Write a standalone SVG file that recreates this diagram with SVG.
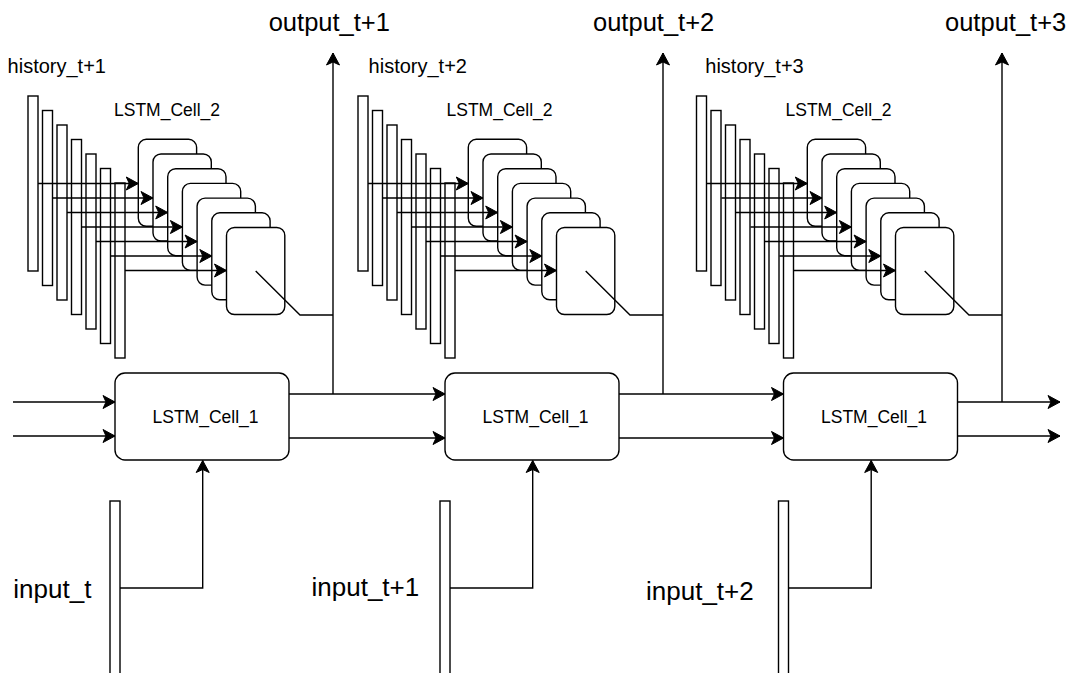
<svg xmlns="http://www.w3.org/2000/svg" width="1073" height="673" viewBox="0 0 1073 673">
<style>
.box{fill:#fff;stroke:#000;stroke-width:1.4}
.ln{fill:none;stroke:#000;stroke-width:1.4}
.arr{marker-end:url(#ah)}
text{font-family:"Liberation Sans",Arial,sans-serif;fill:#000}
.big{font-size:25.5px}
.inp{font-size:26px}
.hist{font-size:20px}
.cell{font-size:17.5px}
</style>
<defs>
<marker id="ah" markerUnits="userSpaceOnUse" markerWidth="16" markerHeight="16" refX="13" refY="8" orient="auto" viewBox="0 0 16 16">
<path d="M1,1.5 L13,8 L1,14.5 L4,8 Z" fill="#000" stroke="#000" stroke-width="1" stroke-linejoin="miter"/>
</marker>
</defs>
<rect width="1073" height="673" fill="#fff"/>

<!-- Column 1 nodes -->
<g id="history1">
<rect class="box" x="28" y="96" width="10" height="175"/>
<rect class="box" x="42.5" y="110.5" width="10" height="175"/>
<rect class="box" x="57" y="125" width="10" height="175"/>
<rect class="box" x="71.5" y="139.5" width="10" height="175"/>
<rect class="box" x="86" y="154" width="10" height="175"/>
<rect class="box" x="100.5" y="168.5" width="10" height="175"/>
<rect class="box" x="115" y="183" width="10" height="175"/>
<text class="hist" x="7.6" y="73">history_t+1</text>
</g>
<g id="lstm2_1">
<rect class="box" x="138.3" y="139.3" width="58.3" height="87" rx="8"/>
<rect class="box" x="153" y="154" width="58.3" height="87" rx="8"/>
<rect class="box" x="167.7" y="168.7" width="58.3" height="87" rx="8"/>
<rect class="box" x="182.4" y="183.4" width="58.3" height="87" rx="8"/>
<rect class="box" x="197.1" y="198.1" width="58.3" height="87" rx="8"/>
<rect class="box" x="211.8" y="212.8" width="58.3" height="87" rx="8"/>
<rect class="box" x="226.5" y="227.5" width="58.3" height="87" rx="8"/>
<text class="cell" x="114" y="116">LSTM_Cell_2</text>
</g>
<g id="lstm1_1">
<rect class="box" x="115" y="373" width="174" height="87" rx="10"/>
<text class="cell" x="205.5" y="423" text-anchor="middle">LSTM_Cell_1</text>
</g>
<g id="input1">
<rect class="box" x="110" y="501" width="10" height="175"/>
<text class="inp" x="13.3" y="598">input_t</text>
</g>
<g id="output1"><text class="big" x="268.7" y="31">output_t+1</text></g>

<!-- Column 2 nodes -->
<g id="history2" transform="translate(330,0)">
<rect class="box" x="28" y="96" width="10" height="175"/>
<rect class="box" x="42.5" y="110.5" width="10" height="175"/>
<rect class="box" x="57" y="125" width="10" height="175"/>
<rect class="box" x="71.5" y="139.5" width="10" height="175"/>
<rect class="box" x="86" y="154" width="10" height="175"/>
<rect class="box" x="100.5" y="168.5" width="10" height="175"/>
<rect class="box" x="115" y="183" width="10" height="175"/>
<text class="hist" x="38.6" y="73">history_t+2</text>
</g>
<g id="lstm2_2" transform="translate(330,0)">
<rect class="box" x="138.3" y="139.3" width="58.3" height="87" rx="8"/>
<rect class="box" x="153" y="154" width="58.3" height="87" rx="8"/>
<rect class="box" x="167.7" y="168.7" width="58.3" height="87" rx="8"/>
<rect class="box" x="182.4" y="183.4" width="58.3" height="87" rx="8"/>
<rect class="box" x="197.1" y="198.1" width="58.3" height="87" rx="8"/>
<rect class="box" x="211.8" y="212.8" width="58.3" height="87" rx="8"/>
<rect class="box" x="226.5" y="227.5" width="58.3" height="87" rx="8"/>
<text class="cell" x="116.5" y="116">LSTM_Cell_2</text>
</g>
<g id="lstm1_2" transform="translate(330,0)">
<rect class="box" x="115" y="373" width="174" height="87" rx="10"/>
<text class="cell" x="205.5" y="423" text-anchor="middle">LSTM_Cell_1</text>
</g>
<g id="input2" transform="translate(330,0)">
<rect class="box" x="110" y="501" width="10" height="175"/>
<text class="inp" x="-18.5" y="596">input_t+1</text>
</g>
<g id="output2"><text class="big" x="593" y="31">output_t+2</text></g>

<!-- Column 3 nodes -->
<g id="history3" transform="translate(668.5,0)">
<rect class="box" x="28" y="96" width="10" height="175"/>
<rect class="box" x="42.5" y="110.5" width="10" height="175"/>
<rect class="box" x="57" y="125" width="10" height="175"/>
<rect class="box" x="71.5" y="139.5" width="10" height="175"/>
<rect class="box" x="86" y="154" width="10" height="175"/>
<rect class="box" x="100.5" y="168.5" width="10" height="175"/>
<rect class="box" x="115" y="183" width="10" height="175"/>
<text class="hist" x="36.8" y="73">history_t+3</text>
</g>
<g id="lstm2_3" transform="translate(669,0)">
<rect class="box" x="138.3" y="139.3" width="58.3" height="87" rx="8"/>
<rect class="box" x="153" y="154" width="58.3" height="87" rx="8"/>
<rect class="box" x="167.7" y="168.7" width="58.3" height="87" rx="8"/>
<rect class="box" x="182.4" y="183.4" width="58.3" height="87" rx="8"/>
<rect class="box" x="197.1" y="198.1" width="58.3" height="87" rx="8"/>
<rect class="box" x="211.8" y="212.8" width="58.3" height="87" rx="8"/>
<rect class="box" x="226.5" y="227.5" width="58.3" height="87" rx="8"/>
<text class="cell" x="116.5" y="116">LSTM_Cell_2</text>
</g>
<g id="lstm1_3" transform="translate(668.5,0)">
<rect class="box" x="115" y="373" width="174" height="87" rx="10"/>
<text class="cell" x="205.5" y="423" text-anchor="middle">LSTM_Cell_1</text>
</g>
<g id="input3" transform="translate(668.5,0)">
<rect class="box" x="110" y="501" width="10" height="175"/>
<text class="inp" x="-22.5" y="600">input_t+2</text>
</g>
<g id="output3"><text class="big" x="945" y="31">output_t+3</text></g>

<!-- Connectors -->
<g id="connectors">
<g id="conn-col1">
<path class="ln arr" d="M38,183.5 H138.3"/>
<path class="ln arr" d="M52.5,198 H153"/>
<path class="ln arr" d="M67,212.5 H167.7"/>
<path class="ln arr" d="M81.5,227 H182.4"/>
<path class="ln arr" d="M96,241.5 H197.1"/>
<path class="ln arr" d="M110.5,256 H211.8"/>
<path class="ln arr" d="M125,270.5 H226.5"/>
<path class="ln" d="M255.7,271 L300,315 H333"/>
<path class="ln arr" d="M120,588 H202.7 V460.5"/>
</g>
<g id="conn-col2" transform="translate(330,0)">
<path class="ln arr" d="M38,183.5 H138.3"/>
<path class="ln arr" d="M52.5,198 H153"/>
<path class="ln arr" d="M67,212.5 H167.7"/>
<path class="ln arr" d="M81.5,227 H182.4"/>
<path class="ln arr" d="M96,241.5 H197.1"/>
<path class="ln arr" d="M110.5,256 H211.8"/>
<path class="ln arr" d="M125,270.5 H226.5"/>
<path class="ln" d="M255.7,271 L300,315 H333"/>
<path class="ln arr" d="M120,588 H202.7 V460.5"/>
</g>
<g id="conn-col3" transform="translate(669,0)">
<path class="ln arr" d="M38,183.5 H138.3"/>
<path class="ln arr" d="M52.5,198 H153"/>
<path class="ln arr" d="M67,212.5 H167.7"/>
<path class="ln arr" d="M81.5,227 H182.4"/>
<path class="ln arr" d="M96,241.5 H197.1"/>
<path class="ln arr" d="M110.5,256 H211.8"/>
<path class="ln arr" d="M125,270.5 H226.5"/>
<path class="ln" d="M255.7,271 L300,315 H333"/>
<path class="ln arr" d="M119.5,588 H202.2 V460.5"/>
</g>
<path class="ln arr" d="M13,402 H115"/>
<path class="ln arr" d="M13,436 H115"/>
<path class="ln arr" d="M289,394 H445"/>
<path class="ln arr" d="M289,438 H445"/>
<path class="ln arr" d="M619,394 H783.5"/>
<path class="ln arr" d="M619,438 H783.5"/>
<path class="ln arr" d="M957.5,402 H1060"/>
<path class="ln arr" d="M957.5,436 H1060"/>
<path class="ln arr" d="M333,394 V53"/>
<path class="ln arr" d="M663,394 V53"/>
<path class="ln arr" d="M1002,402 V53"/>
</g>
</svg>
